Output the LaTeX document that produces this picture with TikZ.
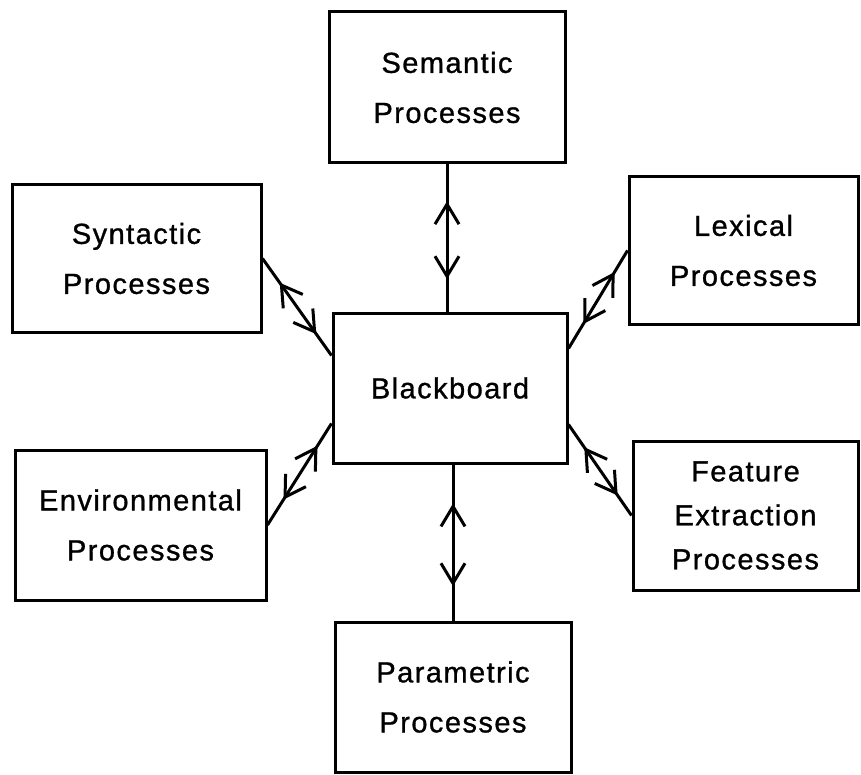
\documentclass[tikz,border=0pt]{standalone}
\usepackage{fontspec}
\setmainfont{Liberation Sans}[LetterSpace=5,FakeBold=1]
\usetikzlibrary{arrows.meta,decorations.markings}
\begin{document}
\begin{tikzpicture}[x=1pt,y=-1pt,
  box/.style={draw, line width=3pt, inner sep=0pt, align=center,
    font=\fontsize{29}{50}\selectfont},
  barb/.tip={Straight Barb[length=20pt,width=24pt]},
  biarrow/.style={line width=3pt, postaction={decorate},
    decoration={markings,
      mark=at position 0.25 with {\arrowreversed{barb}},
      mark=at position 0.78 with {\arrow{barb}}}}]
\useasboundingbox (0,0) rectangle (861,775);
\node[box, minimum width=236pt, minimum height=151pt] (sem) at (447,87.5) {Semantic\\Processes};
\node[box, minimum width=249pt, minimum height=147pt] (syn) at (136.5,258.5) {Syntactic\\Processes};
\node[box, minimum width=229pt, minimum height=147pt] (lex) at (743.5,250.5) {Lexical\\Processes};
\node[box, minimum width=234pt, minimum height=150pt] (bb) at (450,388) {Blackboard};
\node[box, minimum width=251pt, minimum height=150pt] (env) at (140.5,525) {Environmental\\Processes};
\node[box, minimum width=225pt, minimum height=149pt, font=\fontsize{29}{44}\selectfont] (feat) at (745.5,515.5) {Feature\\Extraction\\Processes};
\node[box, minimum width=236pt, minimum height=150pt] (par) at (453,697) {Parametric\\Processes};
\draw[biarrow] (sem.south) -- (sem.south |- bb.north);
\draw[biarrow] (par.north |- bb.south) -- (par.north);
\draw[biarrow] (syn.east) -- ([yshift=-44pt]bb.north west);
\draw[biarrow] ([yshift=-37pt]bb.north east) -- (lex.west);
\draw[biarrow] (env.east) -- ([yshift=41pt]bb.south west);
\draw[biarrow] ([yshift=40pt]bb.south east) -- (feat.west);
\end{tikzpicture}
\end{document}
